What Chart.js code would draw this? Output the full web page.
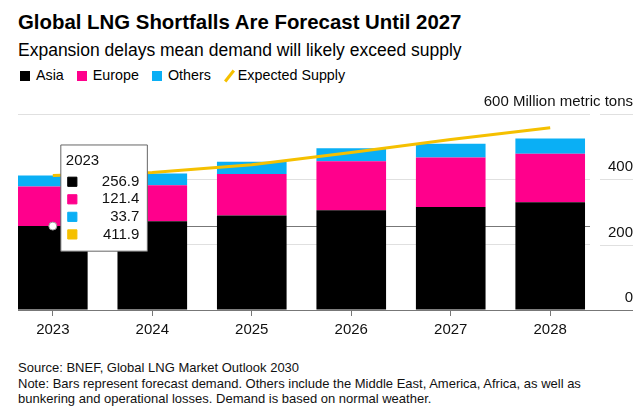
<!DOCTYPE html>
<html>
<head>
<meta charset="utf-8">
<script src="https://cdn.jsdelivr.net/npm/chart.js@4.4.1/dist/chart.umd.min.js"></script>
<style>
  body { margin: 0; width: 643px; height: 417px; background: #fff; position: relative; overflow: hidden;
         font-family: "Liberation Sans", Arial, sans-serif; color: #000; }
  .title { position: absolute; left: 18px; top: 11px; font-size: 20.4px; font-weight: bold; white-space: nowrap; }
  .subtitle { position: absolute; left: 18px; top: 40px; font-size: 17.5px; white-space: nowrap; }
  .legend { position: absolute; left: 20px; top: 67px; font-size: 14.3px; white-space: nowrap; }
  .legend span.item { margin-right: 13px; }
  .legend i { display: inline-block; width: 10px; height: 10px; margin-right: 6px; vertical-align: -1px; }
  .legend i.slash { width: 3px; height: 14px; margin: 0 7px 0 4px; transform: rotate(38deg); vertical-align: -3px; }
  .wrap { position: absolute; left: 0; top: 88px; width: 643px; height: 256px; }
  .footer { position: absolute; left: 18px; top: 360px; font-size: 13px; line-height: 15.5px; color: #111; }
</style>
</head>
<body>
<div class="title">Global LNG Shortfalls Are Forecast Until 2027</div>
<div class="subtitle">Expansion delays mean demand will likely exceed supply</div>
<div class="legend" id="legend"></div>
<div class="wrap"><canvas id="chart"></canvas></div>
<div class="footer">Source: BNEF, Global LNG Market Outlook 2030<br>Note: Bars represent forecast demand. Others include the Middle East, America, Africa, as well as<br>bunkering and operational losses. Demand is based on normal weather.</div>
<script>
const years = [2023, 2024, 2025, 2026, 2027, 2028];
const asia = [256.9, 272, 289, 305, 315, 330];
const europe = [121.4, 110, 127, 150, 152, 148];
const others = [33.7, 36, 38, 40, 42, 47];
const supply = [411.9, 421, 445, 482, 522, 558];
const yTicks = [0, 200, 400, 600];
const unit = 'Million metric tons';

const names = ['Asia', 'Europe', 'Others', 'Expected Supply'];
const colors = ['#000000', '#ff008c', '#0aaff5', '#f5c000'];

// legend
const legend = document.querySelector('#legend');
names.forEach((n, i) => {
    const s = document.createElement('span');
    s.className = 'item';
    s.innerHTML = '<i class="' + (i == 3 ? 'slash' : '') + '" style="background:' + colors[i] + '"></i>' + n;
    legend.appendChild(s);
});

Chart.Tooltip.positioners.besideBar = function (items) {
    if (!items.length) return false;
    const el = items[0].element;
    return { x: el.x + 8, y: el.y - 28 };
};

// gridline ends on the right, y labels, crosshair and hover dot
const extras = {
    id: 'extras',
    beforeDatasetsDraw(chart) {
        const ctx = chart.ctx, area = chart.chartArea;
        const el = chart.getDatasetMeta(0).data[0];
        ctx.save();
        ctx.strokeStyle = '#777';
        ctx.lineWidth = 1;
        ctx.beginPath();
        ctx.moveTo(area.left, Math.round(el.y) + 0.5);
        ctx.lineTo(area.right, Math.round(el.y) + 0.5);
        ctx.stroke();
        ctx.restore();
    },
    afterDatasetsDraw(chart) {
        const ctx = chart.ctx, area = chart.chartArea, y = chart.scales.y;
        const right = chart.width - 10;
        ctx.save();
        ctx.font = '15px "Liberation Sans", Arial, sans-serif';
        ctx.textAlign = 'right';
        ctx.textBaseline = 'middle';
        yTicks.forEach(v => {
            const py = Math.round(y.getPixelForValue(v)) + 0.5;
            ctx.beginPath();
            ctx.strokeStyle = v === 0 ? '#777' : '#e0e0e0';
            ctx.moveTo(v === 0 ? area.right : area.right + 10, py);
            ctx.lineTo(right, py);
            ctx.stroke();
            ctx.fillStyle = '#111';
            ctx.fillText(v === 600 ? v + ' ' + unit : String(v), right, py - 13);
        });
        // hover dot
        const el = chart.getDatasetMeta(0).data[0];
        ctx.beginPath();
        ctx.arc(chart.scales.x.getPixelForValue(years[0]), el.y, 4, 0, Math.PI * 2);
        ctx.fillStyle = '#fff';
        ctx.fill();
        ctx.strokeStyle = '#999';
        ctx.stroke();
        ctx.restore();
    }
};

const chart = new Chart(document.querySelector('#chart'), {
    data: {
        labels: years,
        datasets: [
            { type: 'bar', label: names[0], data: asia, backgroundColor: colors[0] },
            { type: 'bar', label: names[1], data: europe, backgroundColor: colors[1] },
            { type: 'bar', label: names[2], data: others, backgroundColor: colors[2] },
            {
                type: 'line', label: names[3], data: supply, borderColor: colors[3], borderWidth: 3,
                pointRadius: 0, tension: 0, order: -1
            }
        ]
    },
    options: {
        responsive: true,
        maintainAspectRatio: false,
        animation: false,
        events: [],
        layout: { padding: { left: 18, top: 26, right: 0, bottom: 0 } },
        datasets: { bar: { categoryPercentage: 1, barPercentage: 0.7 } },
        scales: {
            x: {
                type: 'linear',
                stacked: true,
                offset: false,
                min: years[0] - 0.35,
                max: years[years.length - 1] + 0.4,
                afterBuildTicks: s => { s.ticks = years.map(v => ({ value: v })); },
                ticks: {
                    callback: v => String(v),
                    color: '#111',
                    padding: 5,
                    font: { size: 15, family: '"Liberation Sans", Arial, sans-serif' }
                },
                grid: { drawOnChartArea: false, drawTicks: true, tickLength: 6, tickColor: '#777', offset: false },
                border: { display: true, color: '#777' }
            },
            y: {
                position: 'right',
                stacked: true,
                min: 0,
                max: 600,
                afterBuildTicks: s => { s.ticks = yTicks.map(v => ({ value: v })); },
                afterFit: s => { s.width = 53; },
                ticks: { display: false },
                grid: {
                    drawTicks: false,
                    color: c => c.tick && c.tick.value === 0 ? '#777' : '#e0e0e0'
                },
                border: { display: false }
            }
        },
        plugins: {
            legend: { display: false },
            tooltip: {
                enabled: true,
                position: 'besideBar',
                xAlign: 'left',
                yAlign: 'center',
                caretSize: 0,
                caretPadding: 0,
                cornerRadius: 0,
                backgroundColor: '#fff',
                borderColor: '#666',
                borderWidth: 1,
                titleColor: '#111',
                bodyColor: '#111',
                titleFont: { size: 15, weight: 'normal', family: '"Liberation Sans", Arial, sans-serif' },
                bodyFont: { size: 15, lineHeight: 1.17, family: '"Liberation Sans", Arial, sans-serif' },
                titleMarginBottom: 3,
                bodySpacing: 0,
                bodyAlign: 'right',
                padding: { top: 7, bottom: 8, left: 5, right: 8 },
                usePointStyle: true,
                boxWidth: 13,
                boxHeight: 13,
                boxPadding: 21,
                callbacks: {
                    title: items => String(years[items[0].dataIndex]),
                    label: c => c.parsed.y.toFixed(1),
                    labelPointStyle: () => ({ pointStyle: 'rect', rotation: 0 }),
                    labelColor: c => ({ borderColor: colors[c.datasetIndex], backgroundColor: colors[c.datasetIndex] })
                }
            }
        }
    },
    plugins: [extras]
});

chart.tooltip.setActiveElements([0, 1, 2, 3].map(d => ({ datasetIndex: d, index: 0 })), { x: 0, y: 0 });
chart.update();
</script>
</body>
</html>
